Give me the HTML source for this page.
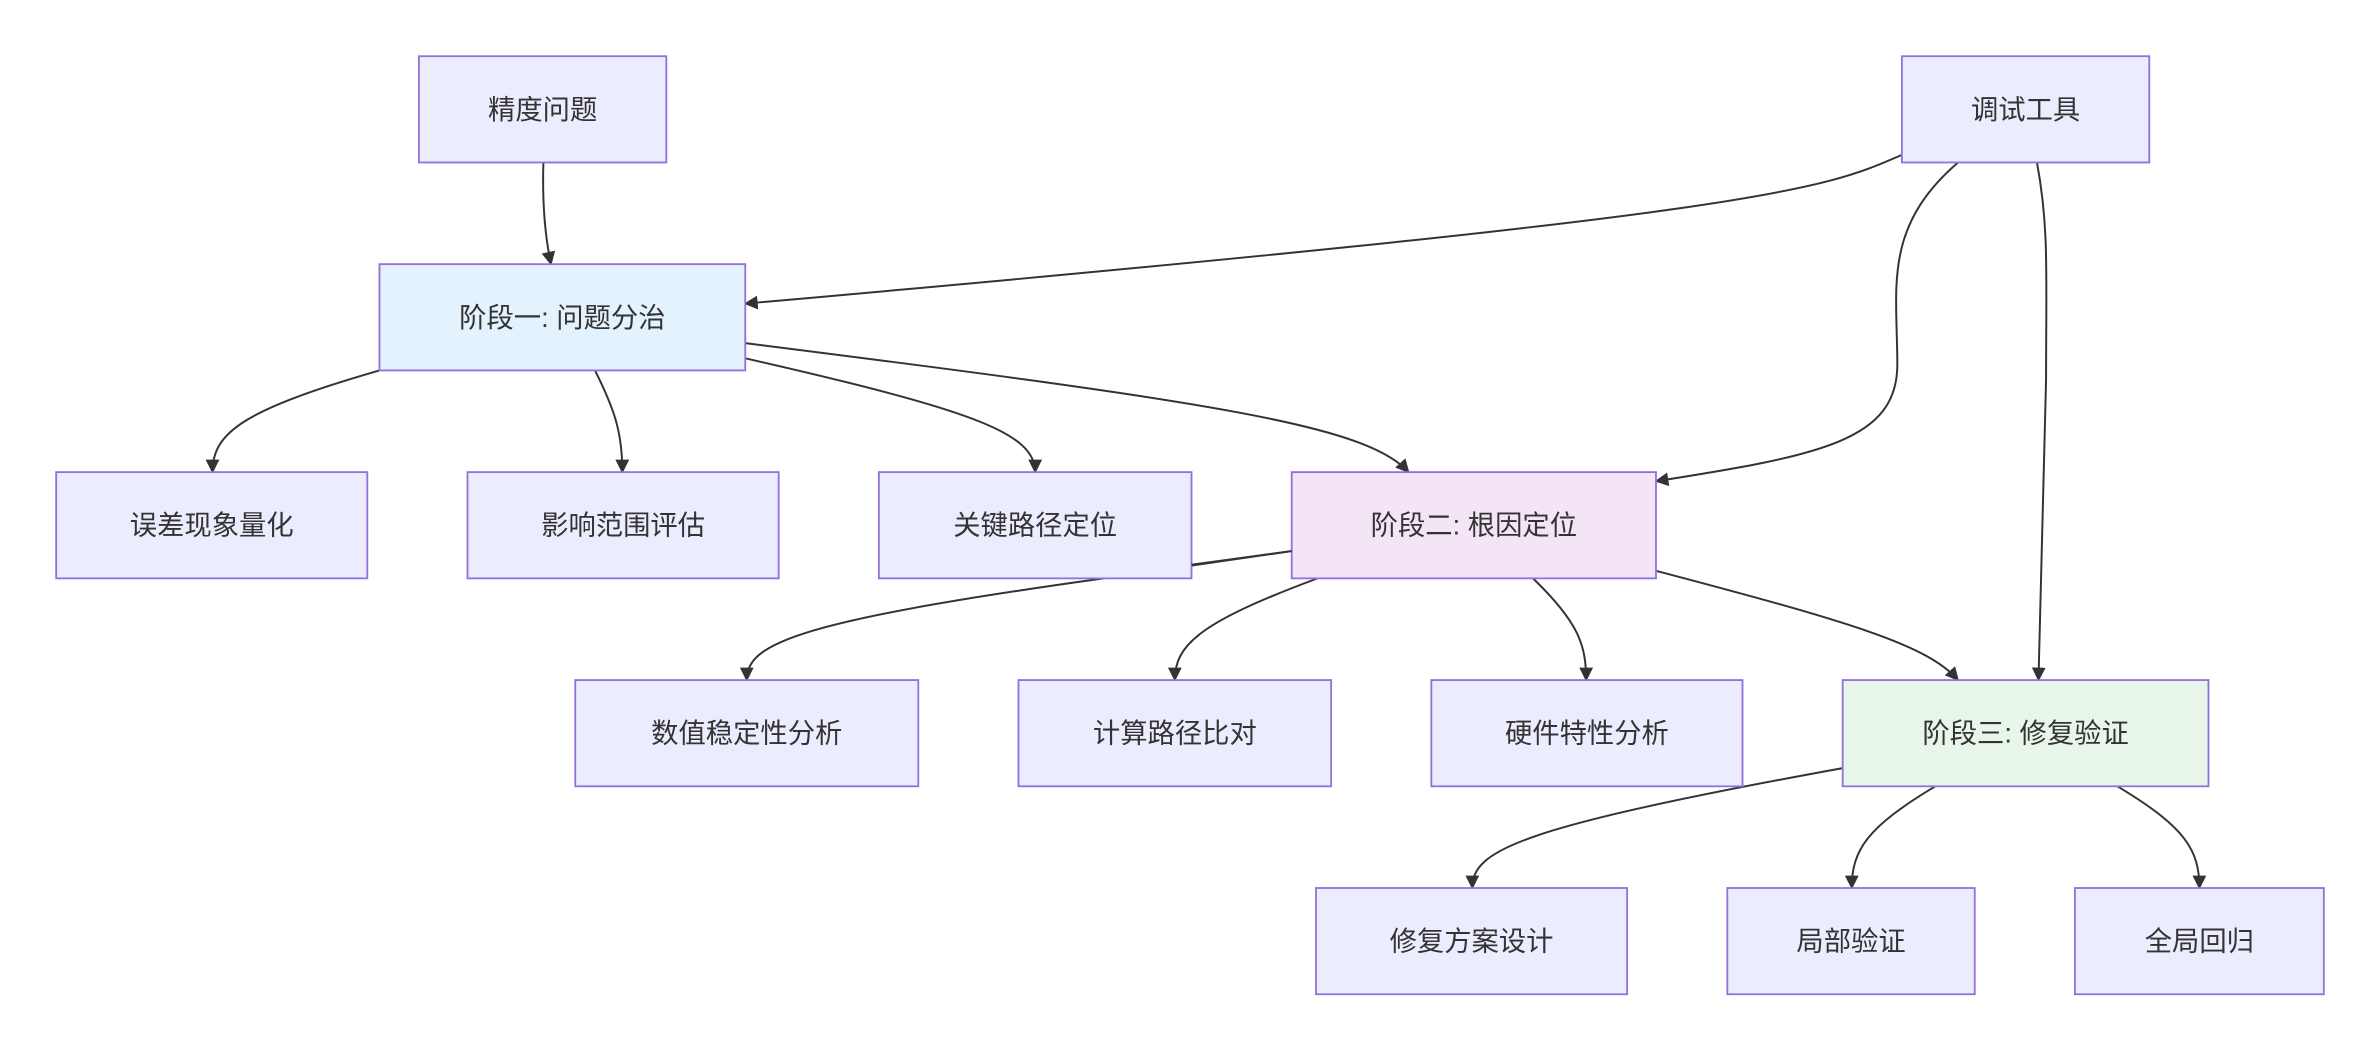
<!DOCTYPE html>
<html><head><meta charset="utf-8"><style>html,body{margin:0;padding:0;background:#fff}svg{display:block}</style></head>
<body>
<svg width="2380" height="1052" viewBox="0 0 1568 693" xmlns="http://www.w3.org/2000/svg">
<defs><marker id="a" viewBox="0 0 10 10" refX="9" refY="5" markerWidth="7" markerHeight="7" orient="auto-start-reverse"><path d="M0,0 L10,5 L0,10 z" fill="#333"/></marker></defs>
<g fill="none" stroke="#333" stroke-width="1.3" marker-end="url(#a)">
<path d="M358,107 C357,140 360,160 363,174"/>
<path d="M1253,102 C1200,125 1170,140 491,200"/>
<path d="M1290,107 C1240,150 1250,190 1250,240 C1250,290 1200,300 1091,317"/>
<path d="M1342,107 C1350,150 1348,180 1348,250 L1343,448"/>
<path d="M250,244 C160,270 140,285 140,311"/>
<path d="M392,244 C405,270 410,285 410,311"/>
<path d="M491,236 C640,270 682,285 682,311"/>
<path d="M491,226 C800,265 900,280 928,311"/>
<path d="M851,363 L720,382 C520,410 492,425 492,448"/>
<path d="M868,381 C790,410 774,425 774,448"/>
<path d="M1010,381 C1040,410 1045,425 1045,448"/>
<path d="M1091,376 C1220,410 1270,425 1290,448"/>
<path d="M1214,506 C1000,545 970,560 970,585"/>
<path d="M1275,518 C1230,545 1220,560 1220,585"/>
<path d="M1395,518 C1440,545 1449,560 1449,585"/>
</g>
<g stroke="#9370DB" stroke-width="1.2">
<rect x="276" y="37" width="163" height="70" fill="#ECECFF"/>
<rect x="1253" y="37" width="163" height="70" fill="#ECECFF"/>
<rect x="250" y="174" width="241" height="70" fill="#E3F2FD"/>
<rect x="37" y="311" width="205" height="70" fill="#ECECFF"/>
<rect x="308" y="311" width="205" height="70" fill="#ECECFF"/>
<rect x="579" y="311" width="206" height="70" fill="#ECECFF"/>
<rect x="851" y="311" width="240" height="70" fill="#F3E5F5"/>
<rect x="379" y="448" width="226" height="70" fill="#ECECFF"/>
<rect x="671" y="448" width="206" height="70" fill="#ECECFF"/>
<rect x="943" y="448" width="205" height="70" fill="#ECECFF"/>
<rect x="1214" y="448" width="241" height="70" fill="#E8F5E9"/>
<rect x="867" y="585" width="205" height="70" fill="#ECECFF"/>
<rect x="1138" y="585" width="163" height="70" fill="#ECECFF"/>
<rect x="1367" y="585" width="164" height="70" fill="#ECECFF"/>
</g>
<path d="M851,363 L785,372" fill="none" stroke="#333" stroke-width="1.3"/>
<g font-family="Liberation Sans, Noto Sans CJK SC, sans-serif" font-size="18" fill="#333" text-anchor="middle" dominant-baseline="central">
<text x="357.5" y="72">精度问题</text>
<text x="1334.5" y="72">调试工具</text>
<text x="370.5" y="209">阶段一: 问题分治</text>
<text x="139.5" y="346">误差现象量化</text>
<text x="410.5" y="346">影响范围评估</text>
<text x="682" y="346">关键路径定位</text>
<text x="971" y="346">阶段二: 根因定位</text>
<text x="492" y="483">数值稳定性分析</text>
<text x="774" y="483">计算路径比对</text>
<text x="1045.5" y="483">硬件特性分析</text>
<text x="1334.5" y="483">阶段三: 修复验证</text>
<text x="969.5" y="620">修复方案设计</text>
<text x="1219.5" y="620">局部验证</text>
<text x="1449" y="620">全局回归</text>
</g>
</svg>
</body></html>
